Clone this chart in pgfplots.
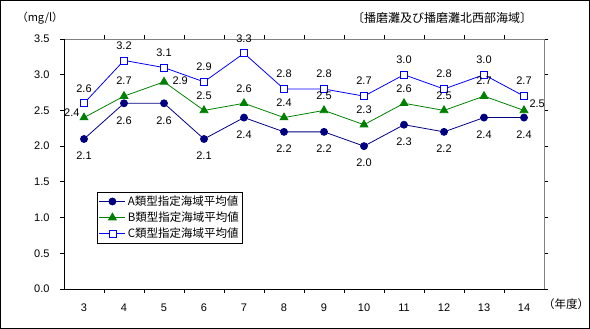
\documentclass[border=0pt]{standalone}
\usepackage{fontspec}
\setmainfont{Liberation Sans}
\newfontfamily\cjk{Noto Sans CJK JP}
\usepackage{pgfplots}
\pgfplotsset{compat=1.18}
\definecolor{cA}{RGB}{0,0,128}
\definecolor{cB}{RGB}{0,128,0}
\definecolor{cC}{RGB}{0,0,255}
\pgfplotsset{lab/.style={draw=none, mark=none, forget plot,
  nodes near coords={\pgfmathprintnumber[fixed, fixed zerofill, precision=1, assume math mode=true]{\pgfplotspointmeta}},
  every node near coord/.style={font=\fontsize{11}{13}\selectfont, text=black, anchor=center, #1}}}
\begin{document}
\begin{tikzpicture}[x=1pt,y=1pt]
\useasboundingbox (0,0) rectangle (590,329);
\draw[line width=1pt] (0.5,0.5) rectangle (589.5,328.5);
\begin{axis}[
  at={(64pt,40pt)}, anchor=south west,
  scale only axis, width=480pt, height=250pt,
  xmin=2.5, xmax=14.5, ymin=0, ymax=3.5,
  axis line style={draw=none},
  xtick={3,...,14}, major x tick style={draw=none},
  minor xtick={3.5,4.5,...,13.5},
  minor x tick style={black, line width=0.8pt},
  ytick={0,0.5,...,3.5},
  y tick style={black, line width=0.8pt},
  tick align=outside, major tick length=4pt, minor tick length=4pt,
  yticklabel style={/pgf/number format/.cd, fixed, fixed zerofill, precision=1, /tikz/.cd, xshift=-7pt},
  xticklabel style={yshift=-7pt},
  /pgf/number format/assume math mode=true,
  tick label style={font=\fontsize{11}{13}\selectfont},
  clip=false,
  legend style={at={(rel axis cs:0.069,0.388)}, anchor=north west, draw=black, line width=0.8pt,
    font=\cjk\fontsize{11.5}{13}\selectfont, inner sep=1.5pt, row sep=1pt, cells={anchor=west}},
  legend image code/.code={\draw[#1, line width=0.8pt] (0pt,0pt) -- (26pt,0pt); \draw[#1, only marks] plot coordinates {(13pt,0pt)};},
]
\draw[gray, line width=0.8pt] (rel axis cs:0,1) -- (rel axis cs:1,1) -- (rel axis cs:1,0);
\draw[black, line width=0.8pt] (rel axis cs:0,1) -- (rel axis cs:0,0) -- (rel axis cs:1,0);
% series
\addplot[cA, line width=0.8pt, mark=*, mark size=3.5pt, mark options={fill=cA}] coordinates {
(3,2.1)(4,2.6)(5,2.6)(6,2.1)(7,2.4)(8,2.2)(9,2.2)(10,2.0)(11,2.3)(12,2.2)(13,2.4)(14,2.4)};
\addlegendentry{A類型指定海域平均値}
\addplot[cB, line width=0.8pt, mark=triangle*, mark size=4.5pt, mark options={fill=cB}] coordinates {
(3,2.4)(4,2.7)(5,2.9)(6,2.5)(7,2.6)(8,2.4)(9,2.5)(10,2.3)(11,2.6)(12,2.5)(13,2.7)(14,2.5)};
\addlegendentry{B類型指定海域平均値}
\addplot[cC, line width=0.8pt, mark=square*, mark size=3.5pt, mark options={fill=white}] coordinates {
(3,2.6)(4,3.2)(5,3.1)(6,2.9)(7,3.3)(8,2.8)(9,2.8)(10,2.7)(11,3.0)(12,2.8)(13,3.0)(14,2.7)};
\addlegendentry{C類型指定海域平均値}
% labels
\addplot[lab={yshift=-17pt}] coordinates {
(3,2.1)(4,2.6)(5,2.6)(6,2.1)(7,2.4)(8,2.2)(9,2.2)(10,2.0)(11,2.3)(12,2.2)(13,2.4)(14,2.4)};
\addplot[lab={yshift=15pt}] coordinates {
(4,2.7)(6,2.5)(7,2.6)(8,2.4)(9,2.5)(10,2.3)(11,2.6)(12,2.5)(13,2.7)};
\addplot[lab={anchor=east, xshift=-1pt, yshift=5pt}] coordinates {(3,2.4)};
\addplot[lab={anchor=west, xshift=5pt, yshift=1pt}] coordinates {(5,2.9)};
\addplot[lab={anchor=west, xshift=2pt, yshift=7pt}] coordinates {(14,2.5)};
\addplot[lab={yshift=15pt}] coordinates {
(3,2.6)(4,3.2)(5,3.1)(6,2.9)(7,3.3)(8,2.8)(9,2.8)(10,2.7)(11,3.0)(12,2.8)(13,3.0)(14,2.7)};
\end{axis}
\node[font=\cjk\fontsize{11}{13}\selectfont] at (40,311) {（mg/l）};
\node[font=\cjk\fontsize{12}{14}\selectfont] at (442,311) {〔播磨灘及び播磨灘北西部海域〕};
\node[font=\cjk\fontsize{11.5}{14}\selectfont] at (566,25) {（年度）};
\end{tikzpicture}
\end{document}
